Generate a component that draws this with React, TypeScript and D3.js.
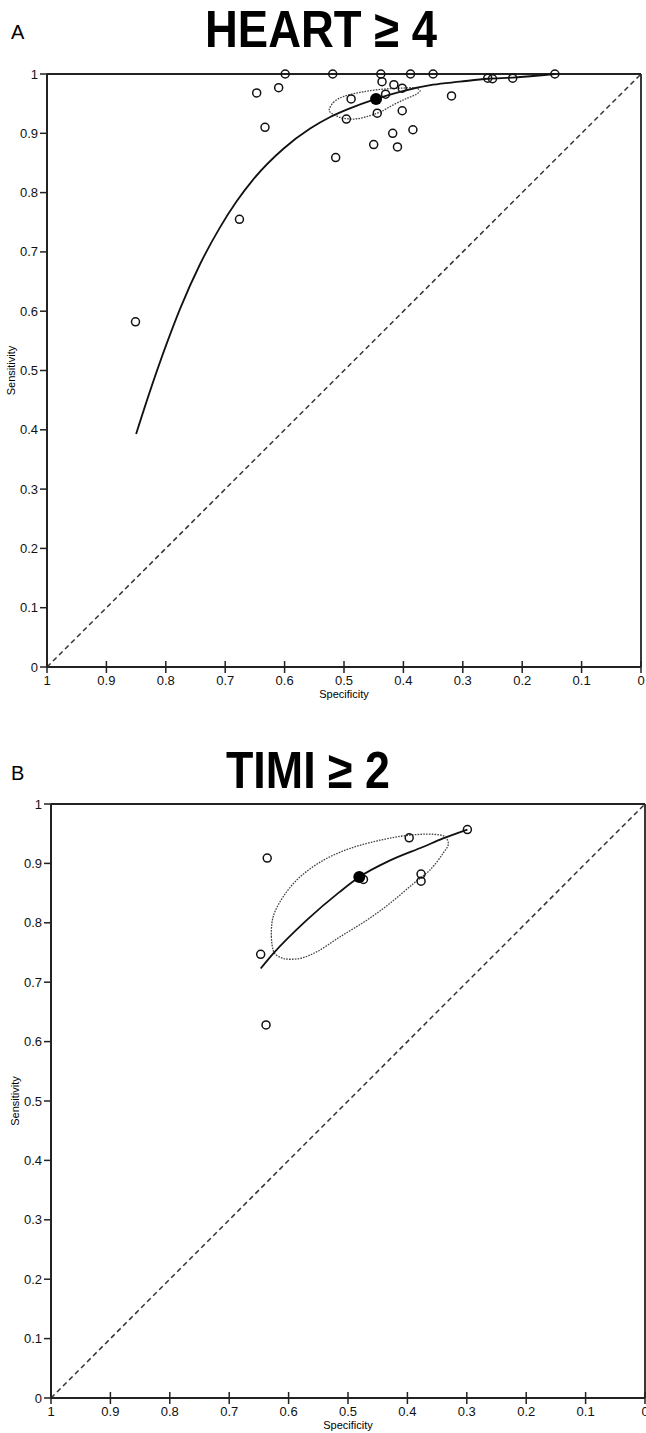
import React from "react";
import * as d3 from "d3";

const tickValues = [0, 0.1, 0.2, 0.3, 0.4, 0.5, 0.6, 0.7, 0.8, 0.9, 1];
const tickLabels = ["0", "0.1", "0.2", "0.3", "0.4", "0.5", "0.6", "0.7", "0.8", "0.9", "1"];

// HEART >= 4 : individual studies
const heartSpec = [0.599, 0.519, 0.438, 0.388, 0.35, 0.145, 0.258, 0.25, 0.216, 0.647, 0.61, 0.633, 0.488, 0.496, 0.436, 0.416, 0.402, 0.43, 0.444, 0.402, 0.418, 0.384, 0.45, 0.41, 0.514, 0.319, 0.676, 0.851];
const heartSens = [1, 1, 1, 1, 1, 1, 0.993, 0.992, 0.993, 0.968, 0.977, 0.91, 0.958, 0.924, 0.987, 0.982, 0.976, 0.966, 0.934, 0.938, 0.9, 0.906, 0.881, 0.877, 0.859, 0.963, 0.755, 0.582];
const heartSummary = [0.446, 0.958];
const heartCurveSpec = [0.85, 0.827, 0.799, 0.776, 0.742, 0.709, 0.681, 0.653, 0.602, 0.557, 0.524, 0.49, 0.446, 0.406, 0.35, 0.305, 0.258, 0.216, 0.145];
const heartCurveSens = [0.393, 0.464, 0.544, 0.604, 0.68, 0.741, 0.785, 0.822, 0.874, 0.908, 0.927, 0.942, 0.958, 0.97, 0.982, 0.987, 0.992, 0.994, 1];
const heartEllSpec = [0.525, 0.518, 0.501, 0.473, 0.439, 0.406, 0.378, 0.372, 0.378, 0.394, 0.417, 0.439, 0.462, 0.484, 0.507, 0.521];
const heartEllSens = [0.938, 0.952, 0.962, 0.969, 0.974, 0.976, 0.976, 0.972, 0.966, 0.959, 0.948, 0.936, 0.928, 0.924, 0.927, 0.934];

// TIMI >= 2 : individual studies
const timiSpec = [0.299, 0.397, 0.636, 0.474, 0.377, 0.377, 0.647, 0.638];
const timiSens = [0.957, 0.943, 0.909, 0.873, 0.882, 0.87, 0.747, 0.628];
const timiSummary = [0.481, 0.877];
const timiCurveSpec = [0.647, 0.626, 0.57, 0.514, 0.481, 0.429, 0.373, 0.34, 0.299];
const timiCurveSens = [0.723, 0.748, 0.804, 0.852, 0.877, 0.905, 0.928, 0.942, 0.957];
const timiEllSpec = [0.626, 0.629, 0.626, 0.609, 0.581, 0.542, 0.497, 0.446, 0.401, 0.356, 0.337, 0.331, 0.34, 0.362, 0.39, 0.429, 0.469, 0.514, 0.553, 0.581, 0.609, 0.623];
const timiEllSens = [0.754, 0.776, 0.81, 0.844, 0.877, 0.905, 0.925, 0.939, 0.947, 0.949, 0.945, 0.933, 0.917, 0.889, 0.866, 0.833, 0.804, 0.776, 0.751, 0.74, 0.74, 0.748];

const FONT = "'Liberation Sans Narrow', 'Arial Narrow', 'Liberation Sans', Arial, sans-serif";

function Panel({letter, title, titleX, titleY, titleLen, left, right, top, bottom, spec, sens, summary, curveSpec, curveSens, ellSpec, ellSens}) {
  const x = d3.scaleLinear().domain([1, 0]).range([left, right]);
  const y = d3.scaleLinear().domain([0, 1]).range([bottom, top]);

  const curve = d3.line<number>()
    .x(i => x(curveSpec[i]))
    .y(i => y(curveSens[i]))
    .curve(d3.curveMonotoneX);

  const ellipse = d3.line<number>()
    .x(i => x(ellSpec[i]))
    .y(i => y(ellSens[i]))
    .curve(d3.curveCatmullRomClosed);

  const midX = (left + right) / 2;
  const midY = (top + bottom) / 2;

  return (
    <g>
      <text x={11} y={titleY - 8} fontFamily="'Liberation Sans', Arial, sans-serif" fontSize={20}>{letter}</text>
      <text x={titleX} y={titleY} fontFamily={FONT} fontWeight="bold" fontSize={52}
        textLength={titleLen} lengthAdjust="spacingAndGlyphs">{title}</text>

      {/* box */}
      <line x1={left} x2={right} y1={top} y2={top} stroke="#222" strokeWidth={1.8} />
      <line x1={right} x2={right} y1={top} y2={bottom} stroke="#222" strokeWidth={1.8} />
      <line x1={left} x2={left} y1={top} y2={bottom} stroke="#222" strokeWidth={2} />
      <line x1={left} x2={right} y1={bottom} y2={bottom} stroke="#222" strokeWidth={2} />

      {/* chance line */}
      <line x1={x(1)} y1={y(0)} x2={x(0)} y2={y(1)} stroke="#333" strokeWidth={1.5} strokeDasharray="5,3.5" />

      {/* y axis */}
      {tickValues.map((t, i) => (
        <g key={"y" + i}>
          <line x1={left - 7} x2={left} y1={y(t)} y2={y(t)} stroke="#222" strokeWidth={1.5} />
          <text x={left - 9} y={y(t) + 4.5} textAnchor="end" fontFamily={FONT} fontSize={13} fill="#111">{tickLabels[i]}</text>
        </g>
      ))}
      <text transform={`translate(${left - 32},${midY}) rotate(-90)`} textAnchor="middle" fontFamily={FONT} fontSize={11}>Sensitivity</text>

      {/* x axis */}
      {tickValues.map((t, i) => (
        <g key={"x" + i}>
          <line x1={x(t)} x2={x(t)} y1={bottom - 6} y2={bottom + 6} stroke="#222" strokeWidth={1.5} />
          <text x={x(t)} y={bottom + 18} textAnchor="middle" fontFamily={FONT} fontSize={13} fill="#111">{tickLabels[i]}</text>
        </g>
      ))}
      <text x={midX} y={bottom + 31} textAnchor="middle" fontFamily={FONT} fontSize={11}>Specificity</text>

      {/* confidence region */}
      <path d={ellipse(d3.range(ellSpec.length)) || ""} fill="none" stroke="#444" strokeWidth={1.3} strokeDasharray="1.6,1.2" />

      {/* summary curve */}
      <path d={curve(d3.range(curveSpec.length)) || ""} fill="none" stroke="#111" strokeWidth={1.8} />

      {/* studies */}
      {spec.map((s, i) => (
        <circle key={"p" + i} cx={x(s)} cy={y(sens[i])} r={4} fill="none" stroke="#111" strokeWidth={1.5} />
      ))}
      <circle cx={x(summary[0])} cy={y(summary[1])} r={6} fill="#000" />
    </g>
  );
}

export default function App() {
  return (
    <svg width={646} height={1433} style={{position: "absolute", left: 0, top: 0, background: "#fff"}}>
      <rect width={646} height={1433} fill="#fff" />
      <Panel letter="A" title="HEART ≥ 4" titleX={205} titleY={47} titleLen={232} left={47} right={641} top={74} bottom={667}
        spec={heartSpec} sens={heartSens} summary={heartSummary}
        curveSpec={heartCurveSpec} curveSens={heartCurveSens}
        ellSpec={heartEllSpec} ellSens={heartEllSens} />
      <Panel letter="B" title="TIMI ≥ 2" titleX={226} titleY={788} titleLen={164} left={51} right={645} top={804} bottom={1398}
        spec={timiSpec} sens={timiSens} summary={timiSummary}
        curveSpec={timiCurveSpec} curveSens={timiCurveSens}
        ellSpec={timiEllSpec} ellSens={timiEllSens} />
    </svg>
  );
}
